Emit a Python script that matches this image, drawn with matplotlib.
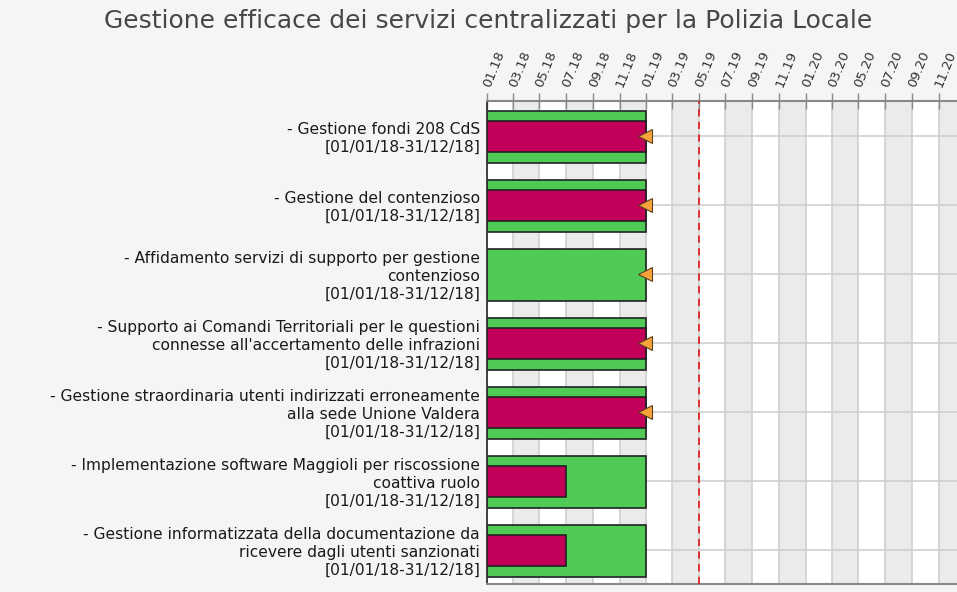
import matplotlib
matplotlib.use("Agg")
import matplotlib.pyplot as plt
import matplotlib.dates as mdates
import pandas as pd
import numpy as np

title = "Gestione efficace dei servizi centralizzati per la Polizia Locale"
tasks = [
    "- Gestione fondi 208 CdS\n[01/01/18-31/12/18]",
    "- Gestione del contenzioso\n[01/01/18-31/12/18]",
    "- Affidamento servizi di supporto per gestione\ncontenzioso\n[01/01/18-31/12/18]",
    "- Supporto ai Comandi Territoriali per le questioni\nconnesse all'accertamento delle infrazioni\n[01/01/18-31/12/18]",
    "- Gestione straordinaria utenti indirizzati erroneamente\nalla sede Unione Valdera\n[01/01/18-31/12/18]",
    "- Implementazione software Maggioli per riscossione\ncoattiva ruolo\n[01/01/18-31/12/18]",
    "- Gestione informatizzata della documentazione da\nricevere dagli utenti sanzionati\n[01/01/18-31/12/18]",
]
plan_start = ["2018-01-01"] * 7
plan_end = ["2018-12-31"] * 7
actual_end = ["2018-12-31", "2018-12-31", None, "2018-12-31", "2018-12-31", "2018-06-30", "2018-06-30"]
marker_date = ["2018-12-31", "2018-12-31", "2018-12-31", "2018-12-31", "2018-12-31", None, None]
today = "2019-05-01"
x_start = "2018-01-01"
x_end = "2020-12-13"

W, H = 957, 592
fig = plt.figure(figsize=(W / 100, H / 100), dpi=100)
fig.patch.set_facecolor("#f5f5f5")
ax = fig.add_axes([487 / W, 1 - 584 / H, (W - 487) / W, (584 - 101) / H])
ax.set_facecolor("white")

x0 = mdates.date2num(pd.Timestamp(x_start))
x1 = mdates.date2num(pd.Timestamp(x_end))
ax.set_xlim(x0, x1)
n = len(tasks)
ax.set_ylim(n - 0.5, -0.5)

# alternating month columns
ticks = pd.date_range(x_start, x_end, freq="2MS")
tnums = mdates.date2num(ticks)
for i, t in enumerate(tnums):
    if i % 2 == 1:
        right = tnums[i + 1] if i + 1 < len(tnums) else x1
        ax.axvspan(t, right, color="#ebebeb", zorder=0, lw=0)
for t in tnums:
    ax.axvline(t, color="#cfcfcf", lw=1.2, zorder=0.5)
for i in range(n):
    ax.axhline(i, color="#cfcfcf", lw=1.2, zorder=0.5)

green = "#4fca55"
pink = "#c2005a"
for i in range(n):
    s = mdates.date2num(pd.Timestamp(plan_start[i]))
    e = mdates.date2num(pd.Timestamp(plan_end[i]) + pd.Timedelta(days=1))
    ax.barh(i + 0.02, e - s, left=s, height=0.75, color=green, edgecolor="#222222", lw=1.2, zorder=2)
    if actual_end[i]:
        ae = mdates.date2num(pd.Timestamp(actual_end[i]) + pd.Timedelta(days=1))
        ax.barh(i + 0.02, ae - s, left=s, height=0.45, color=pink, edgecolor="#222222", lw=1.2, zorder=3)
    if marker_date[i]:
        md = mdates.date2num(pd.Timestamp(marker_date[i]) + pd.Timedelta(days=1))
        ax.plot(md - 2, i, marker="<", ms=10, color="#f7a33a", mec="#5a4020", mew=0.8, zorder=4)

ax.axvline(mdates.date2num(pd.Timestamp(today)), color="#dd2222", lw=1.3, ls=(0, (4, 3)), zorder=5)

ax.set_xticks(tnums)
ax.xaxis.set_major_formatter(mdates.DateFormatter("%m.%y"))
ax.xaxis.tick_top()
ax.tick_params(axis="x", direction="inout", length=12, color="#888888", width=1,
               labelsize=9.5, labelcolor="#333333", pad=4)
for lab in ax.get_xticklabels():
    lab.set_rotation(68)
    lab.set_ha("left")
    lab.set_va("center")
    lab.set_rotation_mode("anchor")

ax.set_yticks(range(n))
ax.set_yticklabels(tasks, fontsize=11.2, family="DejaVu Sans", color="#1a1a1a", linespacing=1.22)
ax.tick_params(axis="y", length=0, pad=5)

ax.spines["left"].set_color("#333333")
ax.spines["left"].set_linewidth(1.3)
ax.spines["top"].set_color("#888888")
ax.spines["top"].set_linewidth(1.5)
ax.spines["bottom"].set_color("#888888")
ax.spines["bottom"].set_linewidth(1.5)
ax.spines["right"].set_visible(False)

fig.text(488 / W, 1 - 21 / H, title, ha="center", va="center", fontsize=18, color="#474747", family="DejaVu Sans")

fig.savefig("out.png", dpi=100, facecolor=fig.get_facecolor())
